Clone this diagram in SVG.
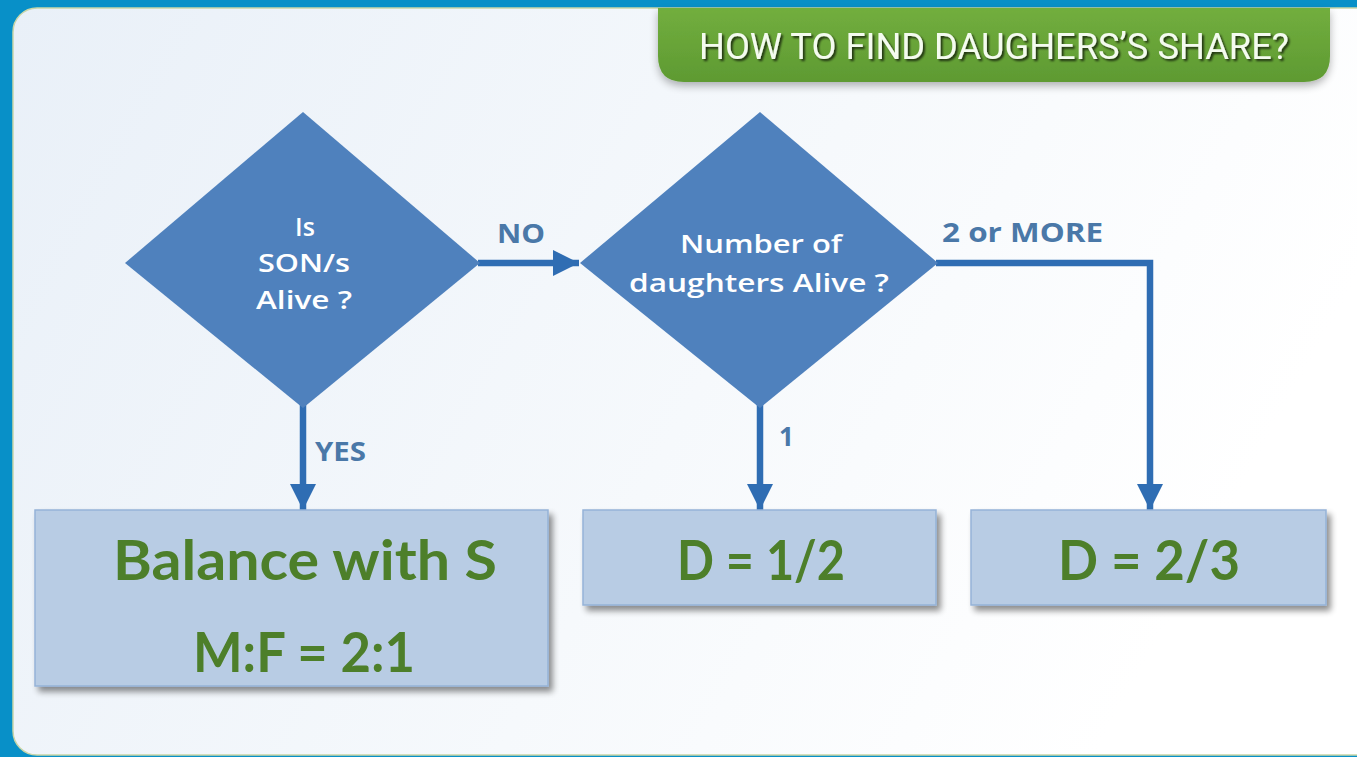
<svg xmlns="http://www.w3.org/2000/svg" width="1357" height="757" viewBox="0 0 1357 757">
  <defs>
    <linearGradient id="panelFill" x1="0" y1="0" x2="1" y2="0.3">
      <stop offset="0" stop-color="#E9F0F8"/>
      <stop offset="0.6" stop-color="#F6F9FC"/>
      <stop offset="1" stop-color="#FFFFFF"/>
    </linearGradient>
    <linearGradient id="bannerFill" x1="0" y1="0" x2="0" y2="1">
      <stop offset="0" stop-color="#72AE3E"/>
      <stop offset="1" stop-color="#5E9A32"/>
    </linearGradient>
    <filter id="boxShadow" x="-5%" y="-10%" width="115%" height="130%">
      <feGaussianBlur in="SourceAlpha" stdDeviation="3"/>
      <feOffset dx="4" dy="5" result="b"/>
      <feComponentTransfer><feFuncA type="linear" slope="0.45"/></feComponentTransfer>
      <feMerge><feMergeNode/><feMergeNode in="SourceGraphic"/></feMerge>
    </filter>
    <filter id="softShadow" x="-5%" y="-20%" width="110%" height="150%">
      <feGaussianBlur in="SourceAlpha" stdDeviation="4"/>
      <feOffset dx="0" dy="4"/>
      <feComponentTransfer><feFuncA type="linear" slope="0.3"/></feComponentTransfer>
      <feMerge><feMergeNode/><feMergeNode in="SourceGraphic"/></feMerge>
    </filter>
    <filter id="textShadow" x="-5%" y="-30%" width="110%" height="160%">
      <feGaussianBlur in="SourceAlpha" stdDeviation="1.2"/>
      <feOffset dx="2" dy="2"/>
      <feComponentTransfer><feFuncA type="linear" slope="0.7"/></feComponentTransfer>
      <feMerge><feMergeNode/><feMergeNode in="SourceGraphic"/></feMerge>
    </filter>
    <marker id="arrow" viewBox="0 0 10 10" refX="10" refY="5" markerWidth="4" markerHeight="4" markerUnits="strokeWidth" orient="auto">
      <path d="M0,0 L10,5 L0,10 Z" fill="#2F6DB3"/>
    </marker>
  </defs>
  <style>
    .decision { fill: #4F81BD; }
    .dtext { fill: #FFFFFF; font-family: "Open Sans", "Liberation Sans", sans-serif; font-weight: 600; font-size: 25px; text-anchor: middle; }
    .result { fill: #B8CCE4; stroke: #95B3D7; stroke-width: 1.5; }
    .rtext { fill: #4E7F2A; font-family: "Lato", "Liberation Sans", sans-serif; font-weight: 700; font-size: 55px; text-anchor: middle; }
    .link { fill: none; stroke: #2F6DB3; stroke-width: 6.5; stroke-linejoin: miter; }
    .ltext { fill: #4A78A8; font-family: "Open Sans", "Liberation Sans", sans-serif; font-weight: 700; font-size: 26px; }
  </style>

  <!-- frame and panel -->
  <rect x="0" y="0" width="1357" height="757" fill="#0890C8"/>
  <rect x="13" y="8" width="1370" height="747" rx="24" ry="24" fill="url(#panelFill)" stroke="#C9D6A8" stroke-width="1.5"/>

  <!-- title banner -->
  <g id="title">
    <path d="M658,8 L1330,8 L1330,56 Q1330,82 1304,82 L684,82 Q658,82 658,56 Z" fill="url(#bannerFill)" filter="url(#softShadow)"/>
    <text x="994" y="59" fill="#F4FBEF" font-family="Roboto, 'Liberation Sans', sans-serif" font-size="36" text-anchor="middle" textLength="590" lengthAdjust="spacingAndGlyphs" filter="url(#textShadow)">HOW TO FIND DAUGHERS’S SHARE?</text>
  </g>

  <!-- connectors -->
  <g id="connectors">
    <line class="link" x1="478" y1="263" x2="579" y2="263" marker-end="url(#arrow)"/>
    <line class="link" x1="303" y1="404" x2="303" y2="510" marker-end="url(#arrow)"/>
    <line class="link" x1="760" y1="404" x2="760" y2="510" marker-end="url(#arrow)"/>
    <polyline class="link" points="936,263 1150,263 1150,510" marker-end="url(#arrow)"/>
    <text class="ltext" x="497" y="243" textLength="48" lengthAdjust="spacingAndGlyphs">NO</text>
    <text class="ltext" x="315" y="461" textLength="51" lengthAdjust="spacingAndGlyphs">YES</text>
    <text class="ltext" x="779" y="446" font-size="22">1</text>
    <text class="ltext" x="942" y="242" textLength="161" lengthAdjust="spacingAndGlyphs">2 or MORE</text>
  </g>

  <!-- decisions -->
  <g id="son-alive">
    <polygon class="decision" points="303,112 480,263 303,408 125,263"/>
    <text class="dtext" x="305" y="236">Is</text>
    <text class="dtext" x="304" y="272" textLength="92" lengthAdjust="spacingAndGlyphs">SON/s</text>
    <text class="dtext" x="304" y="309" textLength="96" lengthAdjust="spacingAndGlyphs">Alive ?</text>
  </g>
  <g id="daughters-count">
    <polygon class="decision" points="760,112 938,263 760,408 580,263"/>
    <text class="dtext" x="761" y="253" textLength="162" lengthAdjust="spacingAndGlyphs">Number of</text>
    <text class="dtext" x="759" y="292" textLength="260" lengthAdjust="spacingAndGlyphs">daughters Alive ?</text>
  </g>

  <!-- results -->
  <g id="balance-son" filter="url(#boxShadow)">
    <rect class="result" x="35" y="510" width="513" height="176"/>
    <text class="rtext" x="305" y="580" textLength="384" lengthAdjust="spacingAndGlyphs">Balance with S</text>
    <text class="rtext" x="304" y="672" textLength="222" lengthAdjust="spacingAndGlyphs">M:F = 2:1</text>
  </g>
  <g id="one-daughter" filter="url(#boxShadow)">
    <rect class="result" x="583" y="510" width="353" height="95"/>
    <text class="rtext" x="761" y="580" textLength="168" lengthAdjust="spacingAndGlyphs">D = 1/2</text>
  </g>
  <g id="two-or-more" filter="url(#boxShadow)">
    <rect class="result" x="971" y="510" width="355" height="95"/>
    <text class="rtext" x="1149" y="580" textLength="182" lengthAdjust="spacingAndGlyphs">D = 2/3</text>
  </g>
</svg>
